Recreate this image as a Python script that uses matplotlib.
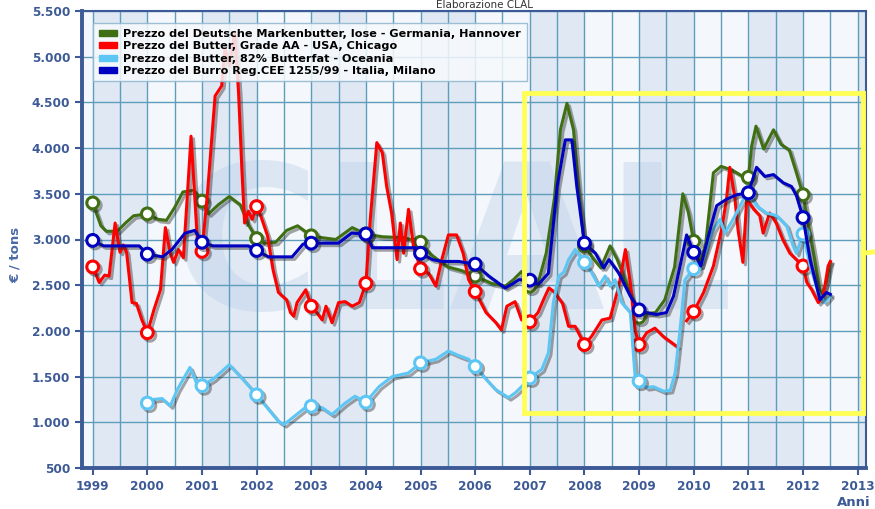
import numpy as np
import matplotlib
matplotlib.use("Agg")
import matplotlib.pyplot as plt
import matplotlib.patheffects as pe
from matplotlib.patches import Patch, Rectangle

# Germany - Hannover
de_t = [1999.0, 1999.15, 1999.25, 1999.45, 1999.6, 1999.75, 2000.0, 2000.2, 2000.35, 2000.5,
        2000.65, 2000.85, 2001.0, 2001.12, 2001.3, 2001.5, 2001.7, 2001.85, 2002.0, 2002.15,
        2002.35, 2002.55, 2002.75, 2003.0, 2003.2, 2003.45, 2003.75, 2004.0, 2004.3, 2004.7,
        2005.0, 2005.2, 2005.5, 2005.75, 2006.0, 2006.3, 2006.55, 2006.7, 2006.85, 2007.0,
        2007.15, 2007.3, 2007.45, 2007.56, 2007.68, 2007.8, 2007.9, 2008.0, 2008.15, 2008.3,
        2008.47, 2008.6, 2008.8, 2008.9, 2009.0, 2009.15, 2009.3, 2009.47, 2009.65, 2009.8,
        2009.9, 2010.0, 2010.12, 2010.22, 2010.36, 2010.5, 2010.7, 2010.9, 2011.0, 2011.06,
        2011.14, 2011.28, 2011.46, 2011.6, 2011.75, 2011.88, 2012.0, 2012.17, 2012.33, 2012.42,
        2012.5]
de_v = [3400, 3150, 3090, 3090, 3180, 3260, 3280, 3220, 3210, 3350,
        3520, 3540, 3420, 3280, 3380, 3470, 3380, 3160, 3010, 2960,
        2970, 3100, 3150, 3040, 3020, 3000, 3130, 3060, 3030, 3020,
        2970, 2830, 2700, 2660, 2600, 2520, 2490, 2560, 2650, 2490,
        2520, 2850, 3450, 4200, 4490, 4200, 3500, 2930, 2800, 2690,
        2930, 2780, 2480, 2300, 2150, 2190, 2200, 2340, 2700, 3500,
        3300, 2980, 2750, 2960, 3730, 3800, 3760, 3690, 3680, 4020,
        4240, 3990, 4200, 4040, 3980, 3730, 3490, 2930, 2380, 2520,
        2750]

# USA - Chicago (gap in late 2009)
us_t = [1999.0, 1999.12, 1999.22, 1999.3, 1999.41, 1999.5, 1999.56, 1999.62, 1999.72, 1999.8,
        1999.9, 2000.0, 2000.12, 2000.24, 2000.33, 2000.42, 2000.48, 2000.57, 2000.66, 2000.8,
        2000.93, 2001.0, 2001.1, 2001.24, 2001.36, 2001.42, 2001.5, 2001.6, 2001.67, 2001.73,
        2001.78, 2001.85, 2001.92, 2002.0, 2002.08, 2002.2, 2002.3, 2002.4, 2002.55, 2002.62,
        2002.68, 2002.74, 2002.9, 2003.0, 2003.1, 2003.2, 2003.27, 2003.38, 2003.5, 2003.62,
        2003.75, 2003.88, 2004.0, 2004.08, 2004.2, 2004.3, 2004.38, 2004.47, 2004.57, 2004.63,
        2004.69, 2004.78, 2004.87, 2005.0, 2005.15, 2005.28, 2005.39, 2005.51, 2005.66, 2005.78,
        2005.88, 2006.0, 2006.2, 2006.38, 2006.48, 2006.58, 2006.73, 2006.85, 2007.0, 2007.15,
        2007.25, 2007.35, 2007.44, 2007.6, 2007.71, 2007.83, 2008.0, 2008.13, 2008.32, 2008.47,
        2008.63, 2008.75, 2008.84, 2008.93, 2009.0, 2009.14, 2009.29, 2009.44, 2009.6, 2009.69,
        2009.78, 2009.87, 2010.0, 2010.18, 2010.36, 2010.51, 2010.6, 2010.66, 2010.75, 2010.81,
        2010.9, 2010.97, 2011.1, 2011.21, 2011.27, 2011.39, 2011.51, 2011.63, 2011.76, 2011.88,
        2012.0, 2012.07, 2012.16, 2012.28, 2012.37, 2012.46, 2012.5]
us_v = [2700, 2530, 2610, 2600, 3180, 2860, 2940, 2860, 2310, 2300,
        2120, 1980, 2230, 2450, 3130, 2850, 2750, 2890, 2800, 4130,
        2850, 2870, 3500, 4570, 4680, 5080, 4900, 5270, 4600, 3770,
        3180, 3310, 3220, 3360, 3250, 3040, 2670, 2420, 2340, 2200,
        2160, 2310, 2450, 2270, 2200, 2120, 2270, 2090, 2310, 2320,
        2270, 2310, 2520, 3220, 4060, 3950, 3580, 3290, 2780, 3180,
        2850, 3330, 2930, 2680, 2630, 2490, 2780, 3050, 3050, 2850,
        2560, 2430, 2200, 2090, 2010, 2270, 2320, 2120, 2100, 2200,
        2340, 2470, 2430, 2300, 2050, 2050, 1850, 1940, 2120, 2140,
        2490, 2890, 2520, 2000, 1850, 1980, 2030, 1940, 1870, 1830,
        np.nan, 2110, 2210, 2420, 2710, 3110, 3440, 3790, 3470, 3110,
        2750, 3440, 3330, 3260, 3070, 3290, 3180, 3000, 2850, 2780,
        2710, 2530, 2450, 2310, 2380, 2710, 2760]

# Oceania
oc_t = [2000.0, 2000.12, 2000.27, 2000.42, 2000.55, 2000.78, 2000.9, 2001.0, 2001.2, 2001.5,
        2001.75, 2002.0, 2002.22, 2002.4, 2002.5, 2002.7, 2002.89, 2003.0, 2003.2, 2003.38,
        2003.62, 2003.8, 2004.0, 2004.24, 2004.48, 2004.78, 2005.0, 2005.28, 2005.51, 2005.7,
        2005.88, 2006.0, 2006.2, 2006.37, 2006.61, 2006.73, 2006.85, 2007.0, 2007.22, 2007.34,
        2007.43, 2007.53, 2007.62, 2007.71, 2007.83, 2008.0, 2008.13, 2008.26, 2008.38, 2008.47,
        2008.56, 2008.68, 2008.84, 2008.93, 2009.0, 2009.14, 2009.26, 2009.45, 2009.57, 2009.66,
        2009.75, 2009.84, 2010.0, 2010.13, 2010.36, 2010.48, 2010.57, 2010.72, 2010.91, 2011.0,
        2011.15, 2011.33, 2011.52, 2011.7, 2011.82, 2011.88, 2012.0, 2012.13, 2012.28, 2012.4,
        2012.5]
oc_v = [1210, 1250, 1260, 1180, 1360, 1600, 1430, 1400, 1470, 1630,
        1470, 1300, 1140, 1010, 975, 1070, 1160, 1175, 1160, 1085,
        1210, 1285, 1220, 1390, 1500, 1540, 1650, 1690, 1780, 1730,
        1690, 1610, 1470, 1360, 1270, 1320, 1390, 1485, 1580, 1760,
        2310, 2600, 2640, 2780, 2890, 2750, 2640, 2490, 2600, 2490,
        2560, 2310, 2200, 1470, 1450, 1380, 1390, 1340, 1350, 1540,
        2015, 2560, 2680, 2710, 3110, 3220, 3070, 3220, 3440, 3510,
        3370, 3290, 3260, 3150, 2930, 2850, 3060, 2710, 2420, 2310,
        2380]

# Italia - Milano
it_t = [1999.0, 1999.2, 1999.5, 1999.85, 2000.0, 2000.28, 2000.45, 2000.69, 2000.87, 2001.0,
        2001.2, 2001.85, 2002.0, 2002.22, 2002.65, 2002.85, 2003.0, 2003.5, 2003.74, 2004.0,
        2004.12, 2004.5, 2004.9, 2005.0, 2005.22, 2005.4, 2005.7, 2006.0, 2006.25, 2006.55,
        2006.67, 2006.8, 2007.0, 2007.16, 2007.34, 2007.5, 2007.65, 2007.77, 2007.86, 2008.0,
        2008.2, 2008.35, 2008.45, 2008.63, 2008.84, 2009.0, 2009.14, 2009.32, 2009.5, 2009.63,
        2009.75, 2009.87, 2010.0, 2010.13, 2010.27, 2010.42, 2010.6, 2010.79, 2011.0, 2011.15,
        2011.3, 2011.46, 2011.64, 2011.79, 2011.88, 2012.0, 2012.13, 2012.31, 2012.43, 2012.5]
it_v = [2990, 2930, 2930, 2930, 2840, 2810, 2890, 3070, 3100, 2970,
        2930, 2930, 2880, 2810, 2810, 2950, 2960, 2960, 3070, 3060,
        2910, 2910, 2910, 2850, 2780, 2760, 2760, 2730, 2600, 2470,
        2510, 2560, 2555, 2510, 2630, 3580, 4090, 4090, 3580, 2960,
        2850, 2690, 2780, 2630, 2380, 2230, 2200, 2180, 2200, 2380,
        2710, 3050, 2860, 2710, 3040, 3370, 3440, 3490, 3510, 3790,
        3690, 3710, 3620, 3580, 3480, 3240, 2780, 2340, 2420, 2400]

labels = ["Prezzo del Deutsche Markenbutter, lose - Germania, Hannover",
          "Prezzo del Butter, Grade AA - USA, Chicago",
          "Prezzo del Butter, 82% Butterfat - Oceania",
          "Prezzo del Burro Reg.CEE 1255/99 - Italia, Milano"]
years = list(range(1999, 2014))
y_ticks = list(range(500, 5501, 500))

blue_txt = "#3d5a96"
grid_c = "#5f9dbd"

fig = plt.figure(figsize=(8.75, 5.09), dpi=100)
ax = fig.add_axes([82 / 875, 1 - 468 / 509, 784 / 875, 457 / 509])
ax.set_facecolor("#f4f7fb")
ax.set_xlim(1998.804, 2013.153)
ax.set_ylim(500, 5500)

# alternating year bands
for y in range(1997, 2014, 2):
    ax.axvspan(y, y + 1, color="#e0e8f3", zorder=0, lw=0)

# watermark
ax.text(2005.6, 2850, "CLAL", fontsize=145, fontweight="bold", color="#bccfe9",
        alpha=0.4, ha="center", va="center", zorder=0.5)

ax.set_xticks(years)
ax.set_xticks(np.arange(1999.5, 2013.2, 1.0), minor=True)
ax.set_yticks(y_ticks)
ax.set_yticklabels([f"{v:,}".replace(",", ".") for v in y_ticks])
ax.grid(True, which="both", axis="x", color=grid_c, lw=1, zorder=1)
ax.grid(True, which="major", axis="y", color=grid_c, lw=1, zorder=1)
ax.tick_params(axis="both", which="major", colors=blue_txt, length=5, width=1.5,
               labelsize=8.7)
ax.tick_params(axis="x", which="minor", length=0)
for lab in ax.get_xticklabels() + ax.get_yticklabels():
    lab.set_fontweight("bold")
    lab.set_color(blue_txt)

for s in ["left", "bottom"]:
    ax.spines[s].set_color(blue_txt)
    ax.spines[s].set_linewidth(2.8)
for s in ["top", "right"]:
    ax.spines[s].set_color(blue_txt)
    ax.spines[s].set_linewidth(1.5)

series = [
    (de_t, de_v, "#3f6f12", list(range(1999, 2013))),
    (us_t, us_v, "#ff0000", [y for y in range(1999, 2013) if y != 2011]),
    (oc_t, oc_v, "#5ec6f4", list(range(2000, 2013))),
    (it_t, it_v, "#0000c0", list(range(1999, 2013))),
]
shadow = [pe.SimpleLineShadow(offset=(1.8, -1.8), shadow_color="#222222", alpha=0.4),
          pe.Normal()]
for i, (t, v, c, mk) in enumerate(series):
    ax.plot(t, v, color=c, lw=2.2, zorder=3 + i, path_effects=shadow,
            solid_joinstyle="round")
    mv = np.interp(mk, t, np.nan_to_num(np.array(v, float), nan=1850))
    ax.plot(mk, mv, "o", ms=8.5, mfc="white", mec=c, mew=2.2, zorder=3 + i,
            path_effects=shadow)

# highlight box
ax.add_patch(Rectangle((2006.9, 1100), 6.19, 3500, fill=False, ec="#ffff55", lw=3.5,
                       zorder=8, clip_on=False))
ax.plot([2013.1, 2013.5], [2850, 2880], color="#ffff55", lw=3.5, clip_on=False, zorder=8)

handles = [Patch(color=c) for _, _, c, _ in series]
leg = ax.legend(handles, labels, loc="upper left", bbox_to_anchor=(0.007, 0.985),
                prop={"weight": "bold", "size": 8.1}, handlelength=1.6, handleheight=0.45,
                labelspacing=0.2, borderpad=0.5, handletextpad=0.6,
                fancybox=False, framealpha=0.85, facecolor="#f7fafd", edgecolor="#8fb6cf")
leg.set_zorder(10)

fig.text(15 / 875, 0.5, "€ / tons", rotation=90, ha="center", va="center",
         fontsize=9.5, fontweight="bold", color="#4a69a6")
fig.text(871 / 875, 7 / 509, "Anni", ha="right", va="center", fontsize=9.5,
         fontweight="bold", color=blue_txt)
fig.text(485 / 875, 1.0, "Elaborazione CLAL", ha="center", va="top",
         fontsize=7.5, color="#333333")

fig.savefig("out.png", dpi=100)
